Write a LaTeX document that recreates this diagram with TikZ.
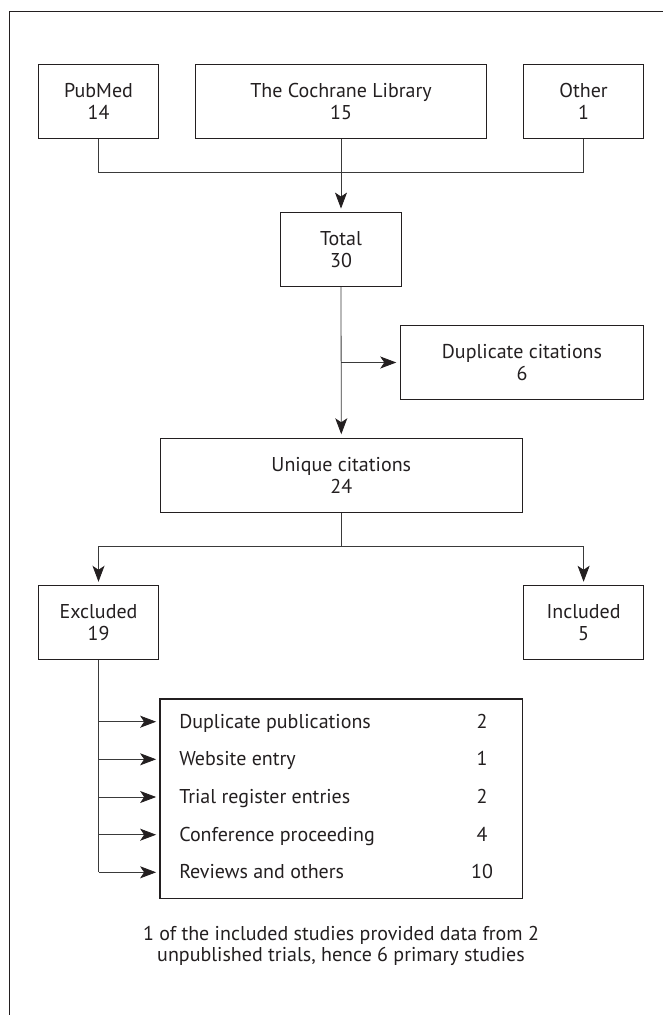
\documentclass[tikz,border=0pt]{standalone}
\usepackage{fontspec}
\setmainfont{PT Sans}
\usetikzlibrary{arrows.meta}
\definecolor{boxc}{HTML}{231F20}
\definecolor{linec}{HTML}{3A3A3A}
\begin{document}
\begin{tikzpicture}[x=0.75pt,y=-0.75pt,
  box/.style={draw=boxc, line width=0.9pt, inner sep=0pt, align=center, text=boxc,
    font=\fontsize{15}{16.5}\selectfont, minimum height=55.5pt},
  sbox/.style={box, minimum width=90.2pt},
  conn/.style={draw=linec, line width=0.6pt},
  arr/.style={conn, -{Stealth[length=12pt,width=9pt,inset=3pt,color=boxc]}, shorten >=2.5pt},
  itemtxt/.style={font=\fontsize{15}{16.5}\selectfont, inner sep=0pt, text=boxc},
]
\useasboundingbox (0,0) rectangle (662,1015);
% partial frame
\draw[boxc, line width=0.9pt] (9.3,1016) -- (9.3,11.7) -- (663,11.7);

% sources
\node[sbox] (pubmed) at (98.5,101.7) {PubMed\\14};
\node[box, minimum width=218.3pt] (cochrane) at (341,101.7) {The Cochrane Library\\15};
\node[sbox] (other) at (583.6,101.7) {Other\\1};

\node[sbox] (total) at (341,249.5) {Total\\30};
\node[box, minimum width=182.7pt] (dup) at (522,362.5) {Duplicate citations\\6};
\node[box, minimum width=271.4pt] (unique) at (341.3,475.2) {Unique citations\\24};
\node[sbox] (excluded) at (98.5,622.7) {Excluded\\19};
\node[sbox] (included) at (583.6,622.7) {Included\\5};

\node[draw=boxc, line width=0.9pt, minimum width=271.7pt, minimum height=149.8pt, inner sep=0pt] (items) at (341.2,798.9) {};

% merge connectors
\coordinate (mL) at (pubmed.south |- 0,172.3);
\coordinate (mR) at (other.south |- 0,172.3);
\draw[conn] (pubmed.south) -- (mL) -- (mR) -- (other.south);
\draw[arr] (cochrane.south) -- (total.north);

% total -> unique, with side branch
\draw[arr] (total.south) -- (unique.north);
\coordinate (dupsplit) at (total.south |- dup.west);
\draw[arr] (dupsplit) -- (dup.west);

% unique -> excluded / included
\coordinate (bsplit) at (unique.south |- 0,546.7);
\coordinate (bL) at (excluded.north |- 0,546.7);
\coordinate (bR) at (included.north |- 0,546.7);
\draw[conn] (unique.south) -- (bsplit);
\draw[arr] (bsplit) -- (bL) -- (excluded.north);
\draw[arr] (bsplit) -- (bR) -- (included.north);

% excluded reasons
\coordinate (r1) at (excluded.south |- 0,721.7);
\coordinate (r2) at (excluded.south |- 0,759.3);
\coordinate (r3) at (excluded.south |- 0,797.0);
\coordinate (r4) at (excluded.south |- 0,834.7);
\coordinate (r5) at (excluded.south |- 0,872.3);
\draw[conn] (excluded.south) -- (r5);
\foreach \r in {r1,r2,r3,r4,r5} {
  \draw[arr] (\r) -- (\r -| items.west);
}

\node[itemtxt, anchor=base west] (t1) at (179,728.3) {Duplicate publications};
\node[itemtxt, anchor=base west] (t2) at (179,765.9) {Website entry};
\node[itemtxt, anchor=base west] (t3) at (179,803.6) {Trial register entries};
\node[itemtxt, anchor=base west] (t4) at (179,841.3) {Conference proceeding};
\node[itemtxt, anchor=base west] (t5) at (179,878.9) {Reviews and others};
\node[itemtxt, anchor=base] (n1) at (482,728.3) {2};
\node[itemtxt, anchor=base] (n2) at (482,765.9) {1};
\node[itemtxt, anchor=base] (n3) at (482,803.6) {2};
\node[itemtxt, anchor=base] (n4) at (482,841.3) {4};
\node[itemtxt, anchor=base] (n5) at (482,878.9) {10};

% footnote
\node[itemtxt, anchor=base] (note1) at (341,940) {1 of the included studies provided data from 2};
\node[itemtxt, anchor=base] (note2) at (341,961.7) {unpublished trials, hence 6 primary studies};
\end{tikzpicture}
\end{document}
